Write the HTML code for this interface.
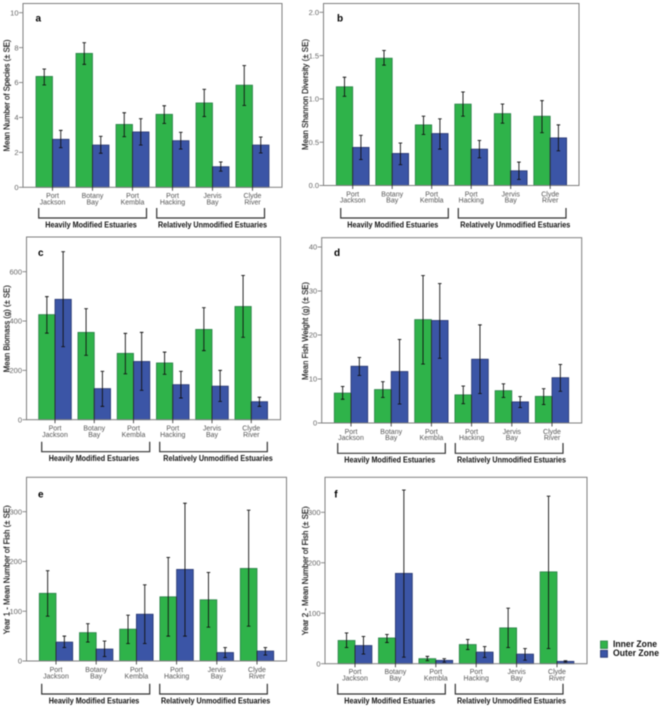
<!DOCTYPE html>
<html lang="en">
<head>
<meta charset="utf-8">
<title>Estuary fish metrics by zone</title>
<style>
html,body{margin:0;padding:0;background:#fff;width:662px;height:708px;overflow:hidden}
#chart{display:block;filter:blur(0.45px)}
text{font-family:"Liberation Sans",sans-serif}
</style>
</head>
<body>
<svg id="chart" xmlns="http://www.w3.org/2000/svg" width="662" height="708" viewBox="0 0 662 708">
  <g>
    <rect x="600.5" y="641" width="7" height="7.5" fill="#2fb34a" stroke="#2b7f49" stroke-width="0.8"/>
    <text x="613" y="646.8" font-size="9" font-weight="bold" fill="#111" textLength="44" lengthAdjust="spacingAndGlyphs">Inner Zone</text>
    <rect x="600.5" y="650.3" width="7" height="7" fill="#3b55a6" stroke="#26356f" stroke-width="0.8"/>
    <text x="613" y="656.2" font-size="9" font-weight="bold" fill="#111" textLength="46" lengthAdjust="spacingAndGlyphs">Outer Zone</text>
  </g>
</svg>
<script>
var categoriesLine1 = ['Port', 'Botany', 'Port', 'Port', 'Jervis', 'Clyde'];
var categoriesLine2 = ['Jackson', 'Bay', 'Kembla', 'Hacking', 'Bay', 'River'];
var groupHeavy = 'Heavily Modified Estuaries';
var groupRelative = 'Relatively Unmodified Estuaries';

var aTicks = ['0', '2', '4', '6', '8', '10'];
var aInnerMean = [6.35, 7.67, 3.6, 4.18, 4.83, 5.85];
var aInnerLow = [5.86, 7.04, 2.9, 3.66, 4.05, 4.69];
var aInnerHigh = [6.77, 8.28, 4.27, 4.67, 5.61, 6.97];
var aOuterMean = [2.75, 2.42, 3.17, 2.67, 1.18, 2.42];
var aOuterLow = [2.27, 1.95, 2.42, 2.19, 0.92, 1.97];
var aOuterHigh = [3.26, 2.92, 3.93, 3.15, 1.45, 2.88];

var bTicks = ['0.0', '0.5', '1.0', '1.5', '2.0'];
var bInnerMean = [1.14, 1.47, 0.7, 0.94, 0.83, 0.8];
var bInnerLow = [1.03, 1.39, 0.59, 0.8, 0.72, 0.61];
var bInnerHigh = [1.25, 1.56, 0.8, 1.08, 0.94, 0.98];
var bOuterMean = [0.44, 0.37, 0.6, 0.42, 0.17, 0.55];
var bOuterLow = [0.3, 0.24, 0.42, 0.32, 0.07, 0.4];
var bOuterHigh = [0.58, 0.49, 0.77, 0.52, 0.27, 0.7];

var cTicks = ['0', '200', '400', '600'];
var cInnerMean = [426, 354, 269, 230, 366, 459];
var cInnerLow = [351, 261, 186, 184, 280, 334];
var cInnerHigh = [499, 450, 350, 274, 454, 585];
var cOuterMean = [488, 126, 236, 142, 136, 73];
var cOuterLow = [296, 54, 119, 88, 74, 54];
var cOuterHigh = [681, 196, 354, 196, 200, 91];

var dTicks = ['0', '10', '20', '30', '40'];
var dInnerMean = [6.8, 7.6, 23.5, 6.4, 7.35, 6.06];
var dInnerLow = [5.4, 5.8, 13.4, 4.4, 5.8, 4.2];
var dInnerHigh = [8.3, 9.4, 33.5, 8.4, 8.9, 7.8];
var dOuterMean = [12.9, 11.7, 23.3, 14.5, 4.8, 10.3];
var dOuterLow = [10.8, 4.3, 14.7, 6.7, 3.5, 7.2];
var dOuterHigh = [14.9, 19, 31.7, 22.3, 6, 13.3];

var eTicks = ['0', '100', '200', '300'];
var eInnerMean = [136, 57, 64, 129, 123, 186];
var eInnerLow = [90, 38, 35, 50, 68, 70];
var eInnerHigh = [181.5, 75, 92, 208, 178, 303];
var eOuterMean = [38, 24, 94, 184, 17, 20];
var eOuterLow = [27, 9, 35, 50, 7, 12];
var eOuterHigh = [50, 40, 153, 317, 27, 27];

var fTicks = ['0', '100', '200', '300'];
var fInnerMean = [46, 51, 10, 38, 71, 182];
var fInnerLow = [32, 42, 6, 28, 32, 30];
var fInnerHigh = [61, 58, 14.5, 48, 110, 332];
var fOuterMean = [36, 179, 6.6, 23, 19, 4.6];
var fOuterLow = [19, 13, 3, 12.5, 7, 3];
var fOuterHigh = [54, 344, 10, 34, 30, 6];

var NS = 'http://www.w3.org/2000/svg';
var svg = document.getElementById('chart');

function make(parent, tag, attrs, content) {
  var el = document.createElementNS(NS, tag);
  for (var k in attrs) { el.setAttribute(k, attrs[k]); }
  if (content !== undefined) { el.textContent = content; }
  parent.appendChild(el);
  return el;
}

function drawPanel(p) {
  var root = make(svg, 'g', {});
  
  

  var tickValues = p.ticks.map(parseFloat);
  var maxTick = tickValues[tickValues.length - 1];
  function yScale(v) { return p.y0 - v * (p.y0 - p.yMaxTick) / maxTick; }
  function xCenter(i) { return p.xFirst + i * p.xStep; }

  var barsGroup = make(root, 'g', {});
  
  

  function drawBars(values, side, fill, edge, label) {
    values.forEach(function (v, i) {
      var x = side < 0 ? xCenter(i) - p.barW : xCenter(i);
      var bar = make(barsGroup, 'rect', { x: x, y: yScale(v), width: p.barW, height: p.y0 - yScale(v), fill: fill, stroke: edge, 'stroke-width': 0.8 });
      
      
    });
  }
  drawBars(p.innerMean, -1, '#2fb34a', '#2b7f49', 'inner');
  drawBars(p.outerMean, 1, '#3b55a6', '#26356f', 'outer');

  var frame = make(root, 'rect', { x: p.left, y: p.top, width: p.right - p.left, height: p.y0 - p.top, fill: 'none', stroke: '#7f7f7f', 'stroke-width': 1 });
  
  

  function drawErrors(low, high, side, label) {
    low.forEach(function (lo, i) {
      var x = xCenter(i) + side * p.barW / 2;
      var yl = yScale(lo), yh = yScale(high[i]);
      var d = 'M' + x + ' ' + yl + 'V' + yh + 'M' + (x - 1.8) + ' ' + yl + 'H' + (x + 1.8) + 'M' + (x - 1.8) + ' ' + yh + 'H' + (x + 1.8);
      var err = make(root, 'path', { d: d, fill: 'none', stroke: '#111', 'stroke-width': 0.9 });
      
      
    });
  }
  drawErrors(p.innerLow, p.innerHigh, -1, 'inner');
  drawErrors(p.outerLow, p.outerHigh, 1, 'outer');

  p.ticks.forEach(function (t, i) {
    var y = yScale(tickValues[i]);
    var mark = make(root, 'line', { x1: p.left - 4, x2: p.left, y1: y, y2: y, stroke: '#7f7f7f', 'stroke-width': 0.9 });
    
    
    var lab = make(root, 'text', { x: p.left - 4.5, y: y + 2.7, 'text-anchor': 'end', 'font-size': 7.5, fill: '#666' }, t);
    
    
  });

  categoriesLine1.forEach(function (c, i) {
    var x = xCenter(i);
    var mark = make(root, 'line', { x1: x, x2: x, y1: yScale(Math.min(p.innerMean[i], p.outerMean[i])), y2: p.y0 + 3.5, stroke: '#2a2a2a', 'stroke-width': 0.8 });
    
    
    var lab = make(root, 'text', { 'text-anchor': 'middle', 'font-size': 7, fill: '#555', x: x, y: p.catY }, c);
    
    
    var lab2 = make(root, 'text', { 'text-anchor': 'middle', 'font-size': 7, fill: '#555', x: x, y: p.catY + 6.2 }, categoriesLine2[i]);
    
    
  });

  function drawBracket(x1, x2, textX, textW, title, name) {
    var br = make(root, 'path', { d: 'M' + x1 + ' ' + p.brTop + 'V' + p.brBot + 'H' + x2 + 'V' + p.brTop, fill: 'none', stroke: '#333', 'stroke-width': 1.2 });
    
    
    var tx = make(root, 'text', { x: textX, y: p.brLabelY, 'font-size': 8, 'font-weight': 'bold', fill: '#111', textLength: textW, lengthAdjust: 'spacingAndGlyphs' }, title);
    
    
  }
  drawBracket(p.br1[0], p.br1[1], p.br1[2], p.br1[3], groupHeavy, 'heavily-modified-group');
  drawBracket(p.br2[0], p.br2[1], p.br2[2], p.br2[3], groupRelative, 'relatively-unmodified-group');

  var title = make(root, 'text', { transform: 'translate(' + p.titleX + ' ' + p.titleY + ') rotate(-90)', 'text-anchor': 'middle', 'font-size': 8.5, fill: '#1a1a1a', stroke: '#1a1a1a', 'stroke-width': 0.2, textLength: p.titleW, lengthAdjust: 'spacingAndGlyphs' }, p.title);
  
  

  var letter = make(root, 'text', { x: p.letterX, y: p.letterY, 'font-size': 10, 'font-weight': 'bold', fill: '#000' }, p.letter);
  
  
}

drawPanel({ letter: 'a', title: 'Mean Number of Species (\u00b1 SE)', ticks: aTicks,
  innerMean: aInnerMean, innerLow: aInnerLow, innerHigh: aInnerHigh, outerMean: aOuterMean, outerLow: aOuterLow, outerHigh: aOuterHigh,
  left: 23, right: 282, top: 3.5, y0: 187.3, yMaxTick: 12.7, xFirst: 52.5, xStep: 40, barW: 16.5,
  catY: 198.2, brTop: 208, brBot: 218, brLabelY: 227.5, br1: [38.7, 146.5, 45.3, 91.5], br2: [156.7, 264.5, 158, 109],
  titleX: 9.5, titleY: 95.5, titleW: 112, letterX: 35.5, letterY: 21.5 });
drawPanel({ letter: 'b', title: 'Mean Shannon Diversity (\u00b1 SE)', ticks: bTicks,
  innerMean: bInnerMean, innerLow: bInnerLow, innerHigh: bInnerHigh, outerMean: bOuterMean, outerLow: bOuterLow, outerHigh: bOuterHigh,
  left: 323.5, right: 579, top: 3.5, y0: 185.5, yMaxTick: 12.3, xFirst: 352.7, xStep: 39.5, barW: 16.4,
  catY: 196.3, brTop: 208, brBot: 218, brLabelY: 227.5, br1: [340.7, 448.3, 347.3, 91], br2: [458.3, 566, 460.3, 110],
  titleX: 308, titleY: 94.5, titleW: 111, letterX: 337, letterY: 21.5 });
drawPanel({ letter: 'c', title: 'Mean Biomass (g) (\u00b1 SE)', ticks: cTicks,
  innerMean: cInnerMean, innerLow: cInnerLow, innerHigh: cInnerHigh, outerMean: cOuterMean, outerLow: cOuterLow, outerHigh: cOuterHigh,
  left: 26.5, right: 280.5, top: 237, y0: 419.7, yMaxTick: 271.7, xFirst: 55, xStep: 39.25, barW: 16.3,
  catY: 430.6, brTop: 441.7, brBot: 451.7, brLabelY: 461, br1: [41.7, 149.7, 48.7, 90.6], br2: [159.7, 267.3, 163.3, 109.4],
  titleX: 9.5, titleY: 328.7, titleW: 87, letterX: 38, letterY: 256 });
drawPanel({ letter: 'd', title: 'Mean Fish Weight (g) (\u00b1 SE)', ticks: dTicks,
  innerMean: dInnerMean, innerLow: dInnerLow, innerHigh: dInnerHigh, outerMean: dOuterMean, outerLow: dOuterLow, outerHigh: dOuterHigh,
  left: 321.7, right: 581.7, top: 237.7, y0: 423, yMaxTick: 247, xFirst: 351, xStep: 40.2, barW: 16.7,
  catY: 433.9, brTop: 443, brBot: 453.3, brLabelY: 462.4, br1: [337.7, 445.3, 344.3, 91], br2: [455.3, 563, 457, 109],
  titleX: 308, titleY: 331, titleW: 98, letterX: 334, letterY: 256 });
drawPanel({ letter: 'e', title: 'Year 1 - Mean Number of Fish (\u00b1 SE)', ticks: eTicks,
  innerMean: eInnerMean, innerLow: eInnerLow, innerHigh: eInnerHigh, outerMean: eOuterMean, outerLow: eOuterLow, outerHigh: eOuterHigh,
  left: 26.5, right: 286.5, top: 477.3, y0: 661, yMaxTick: 511.7, xFirst: 56, xStep: 40.2, barW: 16.7,
  catY: 672.2, brTop: 683.7, brBot: 694, brLabelY: 703.4, br1: [41.7, 149.7, 48.7, 90.6], br2: [159.7, 267.3, 161, 109.3],
  titleX: 9.5, titleY: 569.8, titleW: 129, letterX: 38, letterY: 497.5 });
drawPanel({ letter: 'f', title: 'Year 2 - Mean Number of Fish (\u00b1 SE)', ticks: fTicks,
  innerMean: fInnerMean, innerLow: fInnerLow, innerHigh: fInnerHigh, outerMean: fOuterMean, outerLow: fOuterLow, outerHigh: fOuterHigh,
  left: 325, right: 587, top: 477.3, y0: 663.7, yMaxTick: 512.3, xFirst: 355, xStep: 40.4, barW: 16.9,
  catY: 674.2, brTop: 683.7, brBot: 694, brLabelY: 703.4, br1: [337.7, 445.3, 344.3, 91], br2: [455.3, 563, 457, 109],
  titleX: 308, titleY: 570.8, titleW: 129, letterX: 334.3, letterY: 497.5 });
</script>
</body>
</html>
